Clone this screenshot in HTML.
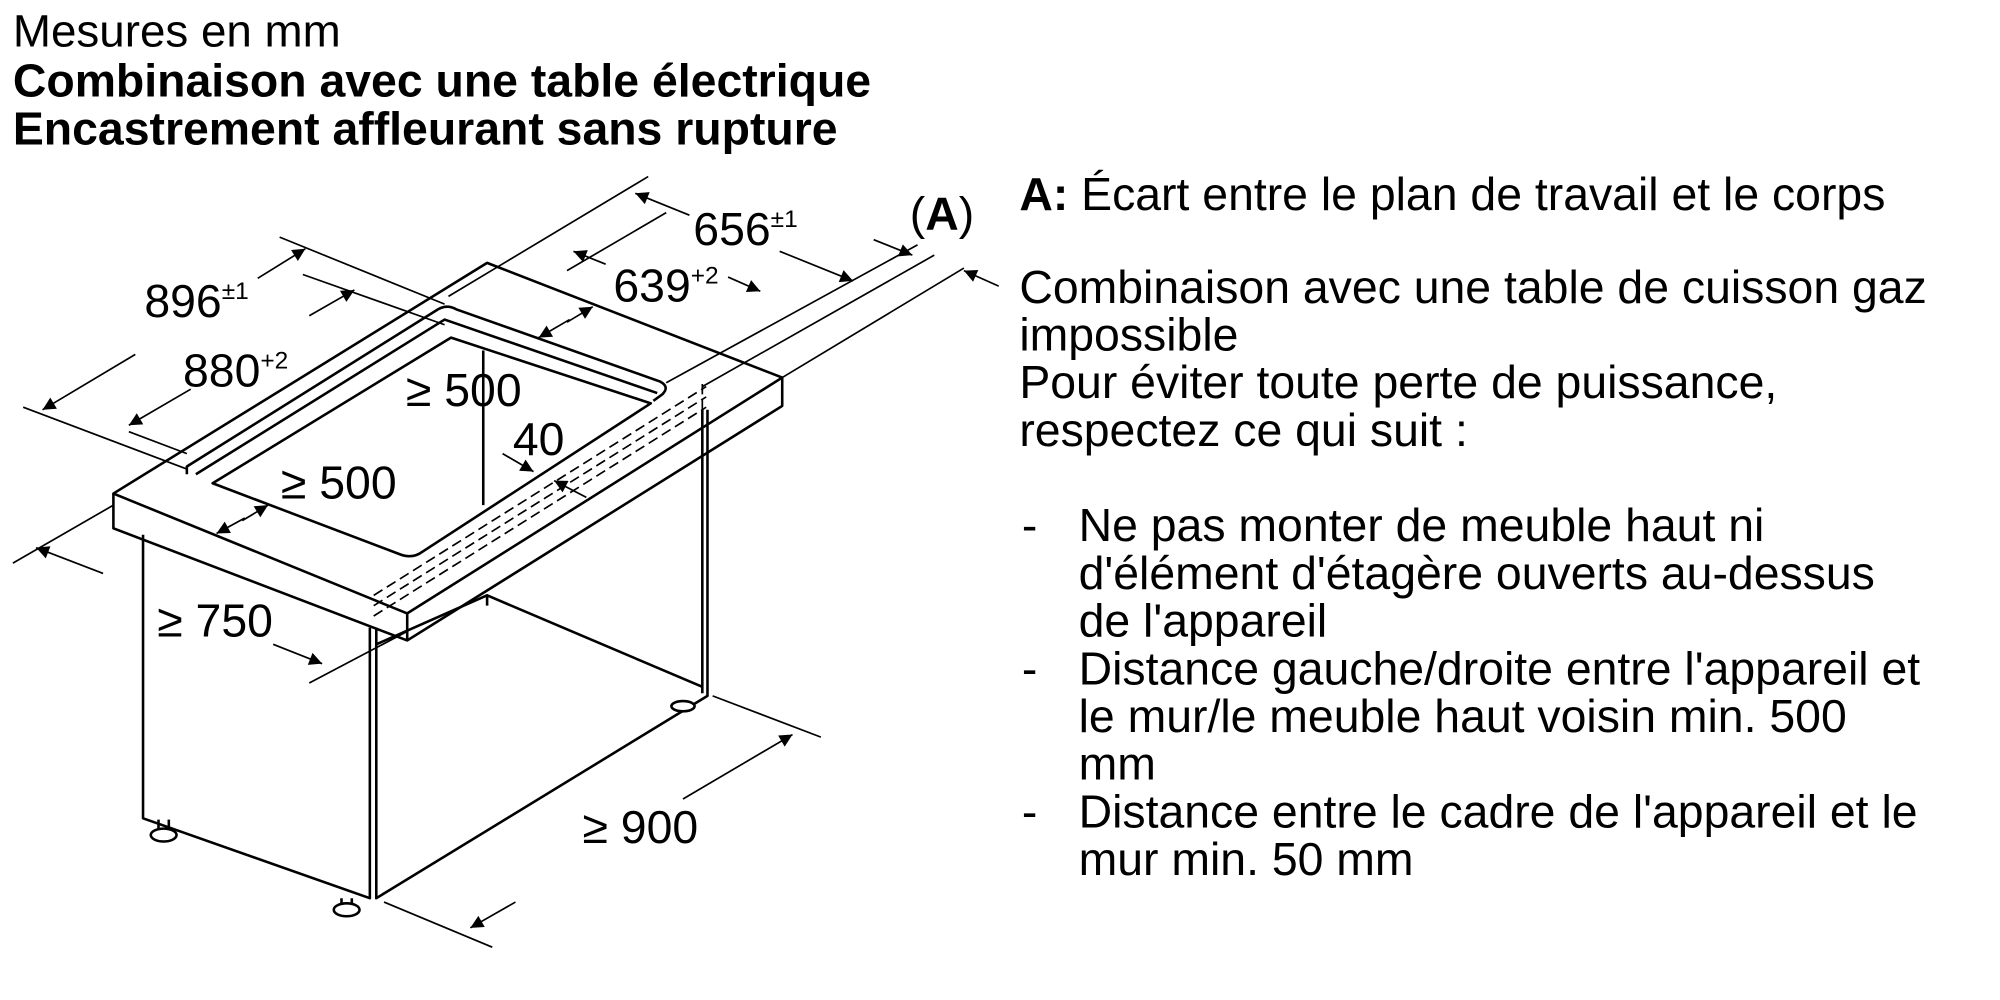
<!DOCTYPE html>
<html><head><meta charset="utf-8"><style>
html,body{margin:0;padding:0;background:#fff;width:2000px;height:1000px;overflow:hidden}
svg{display:block}
text{font-family:"Liberation Sans",sans-serif;fill:#000}
</style></head><body>
<svg width="2000" height="1000" viewBox="0 0 1552 776" xmlns="http://www.w3.org/2000/svg">
<defs>
<marker id="a" viewBox="0 0 10 10" refX="10" refY="5" markerWidth="16" markerHeight="10" markerUnits="userSpaceOnUse" orient="auto"><path d="M0,0 L10,5 L0,10 z" fill="#000"/></marker>
</defs>
<text x="10" y="36" font-size="35.5">Mesures en mm</text>
<text x="10" y="75" font-size="36" font-weight="bold">Combinaison avec une table électrique</text>
<text x="10" y="112" font-size="36" font-weight="bold">Encastrement affleurant sans rupture</text>

<g font-size="36">
<text x="791" y="163"><tspan font-weight="bold">A:</tspan> Écart entre le plan de travail et le corps</text>
<text x="791" y="235">Combinaison avec une table de cuisson gaz</text>
<text x="791" y="272">impossible</text>
<text x="791" y="309">Pour éviter toute perte de puissance,</text>
<text x="791" y="346">respectez ce qui suit :</text>
<text x="793" y="420">-</text><text x="837" y="420">Ne pas monter de meuble haut ni</text>
<text x="837" y="457">d'élément d'étagère ouverts au-dessus</text>
<text x="837" y="494">de l'appareil</text>
<text x="793" y="531">-</text><text x="837" y="531">Distance gauche/droite entre l'appareil et</text>
<text x="837" y="568">le mur/le meuble haut voisin min. 500</text>
<text x="837" y="605">mm</text>
<text x="793" y="642">-</text><text x="837" y="642">Distance entre le cadre de l'appareil et le</text>
<text x="837" y="679">mur min. 50 mm</text>
</g>

<g fill="none" stroke="#000" stroke-width="2" stroke-linejoin="round">
<path d="M88,383 L378,204 L607,293 L316,476 Z"/>
<path d="M88,383 L88,410 L316,497 L607,315 L607,293"/>
<path d="M316,476 L316,497"/>
<path d="M145,368 L145,362 L340,240 Q347,236 354,240 L512,296 Q520,300 514,306 L507,311"/>
<path d="M152,368 L345,248 L510,305"/>
<path d="M165,375 L350,262 L505,313 L328,428 Q320,434 310,430 Z"/>
<path d="M111,415 L111,635 L287,697 L287,487"/>
<path d="M292,487 L292,697 L549,540 L549,318"/>
<path d="M545,318 L545,538"/>
<path d="M292,500 L378,462 L378,470"/>
<path d="M378,462 L545,533"/>
<path d="M375,272 L375,392"/>
</g>
<g fill="#fff" stroke="#000" stroke-width="2">
<path d="M123,636 L123,645 M131,636 L131,645"/>
<ellipse cx="127" cy="648" rx="10" ry="5"/>
<path d="M265,697 L265,703 M273,697 L273,703"/>
<ellipse cx="269" cy="706" rx="10" ry="5"/>
<ellipse cx="530" cy="548" rx="9" ry="4"/>
</g>
<g stroke="#000" stroke-width="1.3" stroke-dasharray="8,4" fill="none">
<path d="M290,462 L548,300"/>
<path d="M290,470 L548,308"/>
<path d="M290,478 L548,316"/>
<path d="M545,298 L545,350"/>
</g>
<g stroke="#000" stroke-width="1.3" fill="none">
<path d="M18,316 L145,364"/>
<path d="M217,184 L345,236"/>
<path d="M100,335 L145,352"/>
<path d="M235,213 L345,252"/>
<path d="M348,230 L503,137"/>
<path d="M440,210 L517,165"/>
<path d="M517,297 L712,190"/>
<path d="M545,300 L725,198"/>
<path d="M607,293 L748,208"/>
<path d="M10,437 L88,392"/>
<path d="M240,530 L316,490"/>
<path d="M298,700 L382,735"/>
<path d="M553,540 L637,572"/>
</g>
<g stroke="#000" stroke-width="1.3" fill="none">
<path d="M105,275 L33,318" marker-end="url(#a)"/>
<path d="M200,216 L237,193" marker-end="url(#a)"/>
<path d="M148,302 L100,330" marker-end="url(#a)"/>
<path d="M240,245 L275,225" marker-end="url(#a)"/>
<path d="M535,167 L493,150" marker-end="url(#a)"/>
<path d="M605,195 L662,218" marker-end="url(#a)"/>
<path d="M470,205 L445,195" marker-end="url(#a)"/>
<path d="M565,215 L590,226" marker-end="url(#a)"/>
<path d="M678,186 L708,198" marker-end="url(#a)"/>
<path d="M775,222 L748,210" marker-end="url(#a)"/>
<path d="M442,248 L418,262" marker-end="url(#a)"/>
<path d="M440,250 L460,238" marker-end="url(#a)"/>
<path d="M190,402 L168,414" marker-end="url(#a)"/>
<path d="M188,404 L208,392" marker-end="url(#a)"/>
<path d="M390,352 L414,366" marker-end="url(#a)"/>
<path d="M455,386 L430,373" marker-end="url(#a)"/>
<path d="M80,445 L28,425" marker-end="url(#a)"/>
<path d="M212,500 L250,515" marker-end="url(#a)"/>
<path d="M400,700 L365,720" marker-end="url(#a)"/>
<path d="M530,620 L615,570" marker-end="url(#a)"/>
</g>
<g font-size="36">
<text x="112" y="246">896<tspan font-size="19" dy="-14">±1</tspan></text>
<text x="142" y="300">880<tspan font-size="19" dy="-14">+2</tspan></text>
<text x="538" y="190">656<tspan font-size="19" dy="-14">±1</tspan></text>
<text x="476" y="234">639<tspan font-size="19" dy="-14">+2</tspan></text>
<text x="706" y="178">(<tspan font-weight="bold">A</tspan>)</text>
<text x="315" y="315">≥ 500</text>
<text x="398" y="353">40</text>
<text x="218" y="387">≥ 500</text>
<text x="122" y="494">≥ 750</text>
<text x="452" y="654">≥ 900</text>
</g>
</svg>
</body></html>
